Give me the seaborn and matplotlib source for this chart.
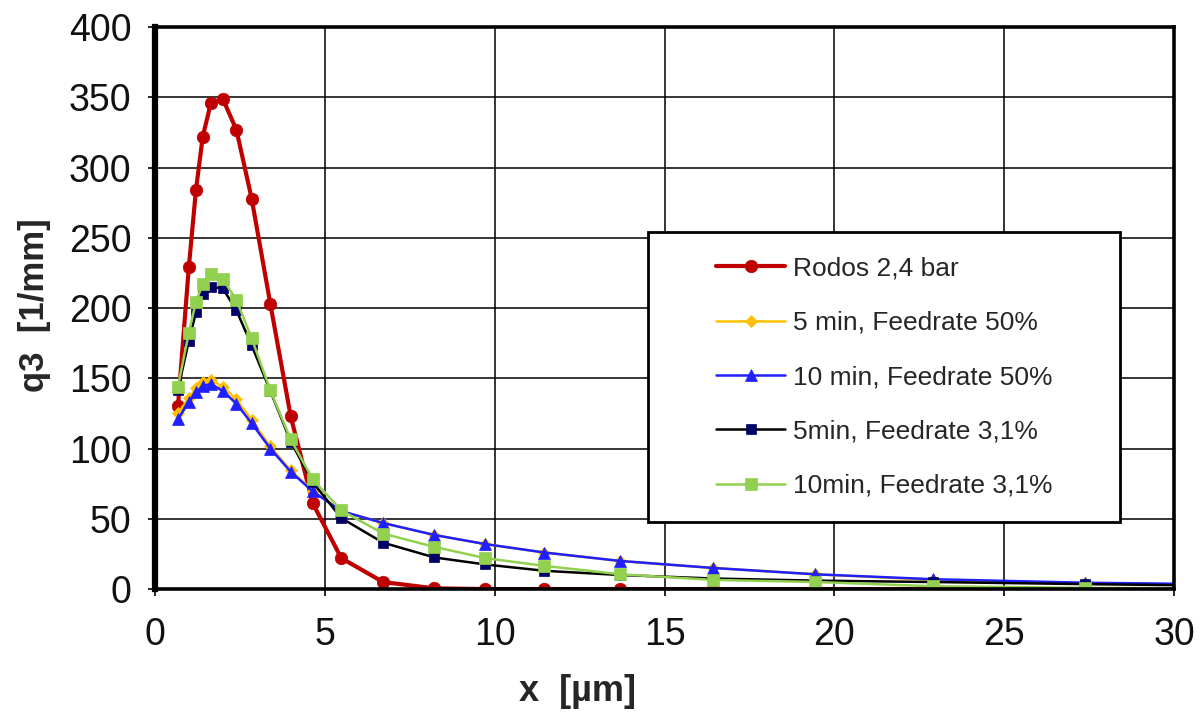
import numpy as np
import pandas as pd
import seaborn as sns
import matplotlib
matplotlib.use("Agg")
import matplotlib.pyplot as plt
from matplotlib.patches import Rectangle

# Particle size class midpoints (µm)
x_um = [0.67, 0.99, 1.20, 1.40, 1.64, 1.99, 2.39, 2.84, 3.39, 3.99, 4.64,
        5.48, 6.71, 8.22, 9.72, 11.46, 13.69, 16.43, 19.44, 22.91, 27.39, 32.86]

# Density distributions q3 (1/mm)
rodos_24bar = [130, 229, 284, 322, 346, 349, 327, 278, 203, 123, 61,
               22, 5, 0.5, 0, 0, 0, 0, 0, 0, 0, 0]
min5_feed50 = [125, 136, 143, 147.5, 149, 144, 135, 120.5, 101.5, 84.5, 70,
               55.5, 47, 38.5, 32, 26, 20, 15, 10.5, 6.5, 4, 2.5]
min10_feed50 = [121, 133, 140, 144.5, 146, 141, 132, 118, 100, 83.5, 69.5,
                55.5, 47, 38.5, 32, 26, 20, 15, 10.5, 7, 4.5, 3]
min5_feed31 = [142, 176.5, 197, 210, 215, 214, 198.5, 173.5, 141, 105, 76,
               50.5, 33, 22.5, 17.5, 13, 10, 7.5, 6, 5, 3.5, 2]
min10_feed31 = [144, 182.5, 204.5, 217, 224.5, 220.5, 206, 178.5, 141.5, 106.5, 78,
                56, 39.5, 30, 22, 16.5, 10.5, 6.5, 5, 2, 0.8, 0.3]

labels = ["Rodos 2,4 bar", "5 min, Feedrate 50%", "10 min, Feedrate 50%",
          "5min, Feedrate 3,1%", "10min, Feedrate 3,1%"]
series = [rodos_24bar, min5_feed50, min10_feed50, min5_feed31, min10_feed31]

x_ticks = [0, 5, 10, 15, 20, 25, 30]
y_ticks = [0, 50, 100, 150, 200, 250, 300, 350, 400]

# Line colour, marker colour, marker, marker size, line width
styles = [
    dict(color="#C00000", mfc="#C00000", marker="o", ms=9, lw=3.0),
    dict(color="#FFC000", mfc="#FFC000", marker="D", ms=6.5, lw=1.8),
    dict(color="#1F1FFF", mfc="#1F1FFF", marker="^", ms=9, lw=1.8),
    dict(color="#000000", mfc="#000066", marker="s", ms=7.5, lw=1.8),
    dict(color="#92D050", mfc="#92D050", marker="s", ms=8.5, lw=1.8),
]

df = pd.concat(
    [pd.DataFrame({"x": x_um, "q3": vals, "series": lab}) for lab, vals in zip(labels, series)],
    ignore_index=True,
)

sns.set_theme(style="white")
plt.rcParams["font.family"] = ["Liberation Sans", "DejaVu Sans"]

fig = plt.figure(figsize=(12.03, 7.14), dpi=100)
ax = fig.add_axes([0.129, 0.175, 0.847, 0.787])

for i, (lab, st) in enumerate(zip(labels, styles)):
    sub = df[df["series"] == lab]
    sns.lineplot(data=sub, x="x", y="q3", ax=ax, color=st["color"], lw=st["lw"],
                 marker=st["marker"], markersize=st["ms"], markerfacecolor=st["mfc"],
                 markeredgecolor=st["mfc"], markeredgewidth=0.5, label=lab,
                 sort=False, zorder=3 + i)

ax.set_xlim(0, 30)
ax.set_ylim(0, 400)
ax.set_xticks(x_ticks)
ax.set_yticks(y_ticks)
ax.grid(True, color="black", lw=1.1, zorder=0)
ax.set_axisbelow(True)

for side, sp in ax.spines.items():
    sp.set_color("black")
    sp.set_linewidth(2.6)
    sp.set_zorder(20)
ax.spines["left"].set_linewidth(4.5)

ax.tick_params(axis="both", direction="out", length=5, width=1.2, color="black",
               labelsize=27, labelcolor="#111111", bottom=True, left=True)
ax.tick_params(axis="y", pad=12)
ax.tick_params(axis="x", pad=15)

ax.set_xlabel("x  [µm]", fontsize=26, fontweight="bold")
ax.set_ylabel("q3  [1/mm]", fontsize=25, fontweight="bold")
ax.xaxis.label.set_va("center")
ax.yaxis.label.set_va("center")
ax.xaxis.set_label_coords(0.414, -0.183)
ax.yaxis.set_label_coords(-0.118, 0.505)

# Legend box
box = Rectangle((0.484, 0.119), 0.463, 0.516, transform=ax.transAxes,
                facecolor="white", edgecolor="black", lw=2.0, zorder=30)
ax.add_patch(box)
leg = ax.legend(loc="center", bbox_to_anchor=(0.7155, 0.377), frameon=False,
                fontsize=19, handlelength=2.6, handletextpad=0.3, labelspacing=1.15)
leg.set_zorder(31)

fig.savefig("out.png", dpi=100, facecolor="white")
